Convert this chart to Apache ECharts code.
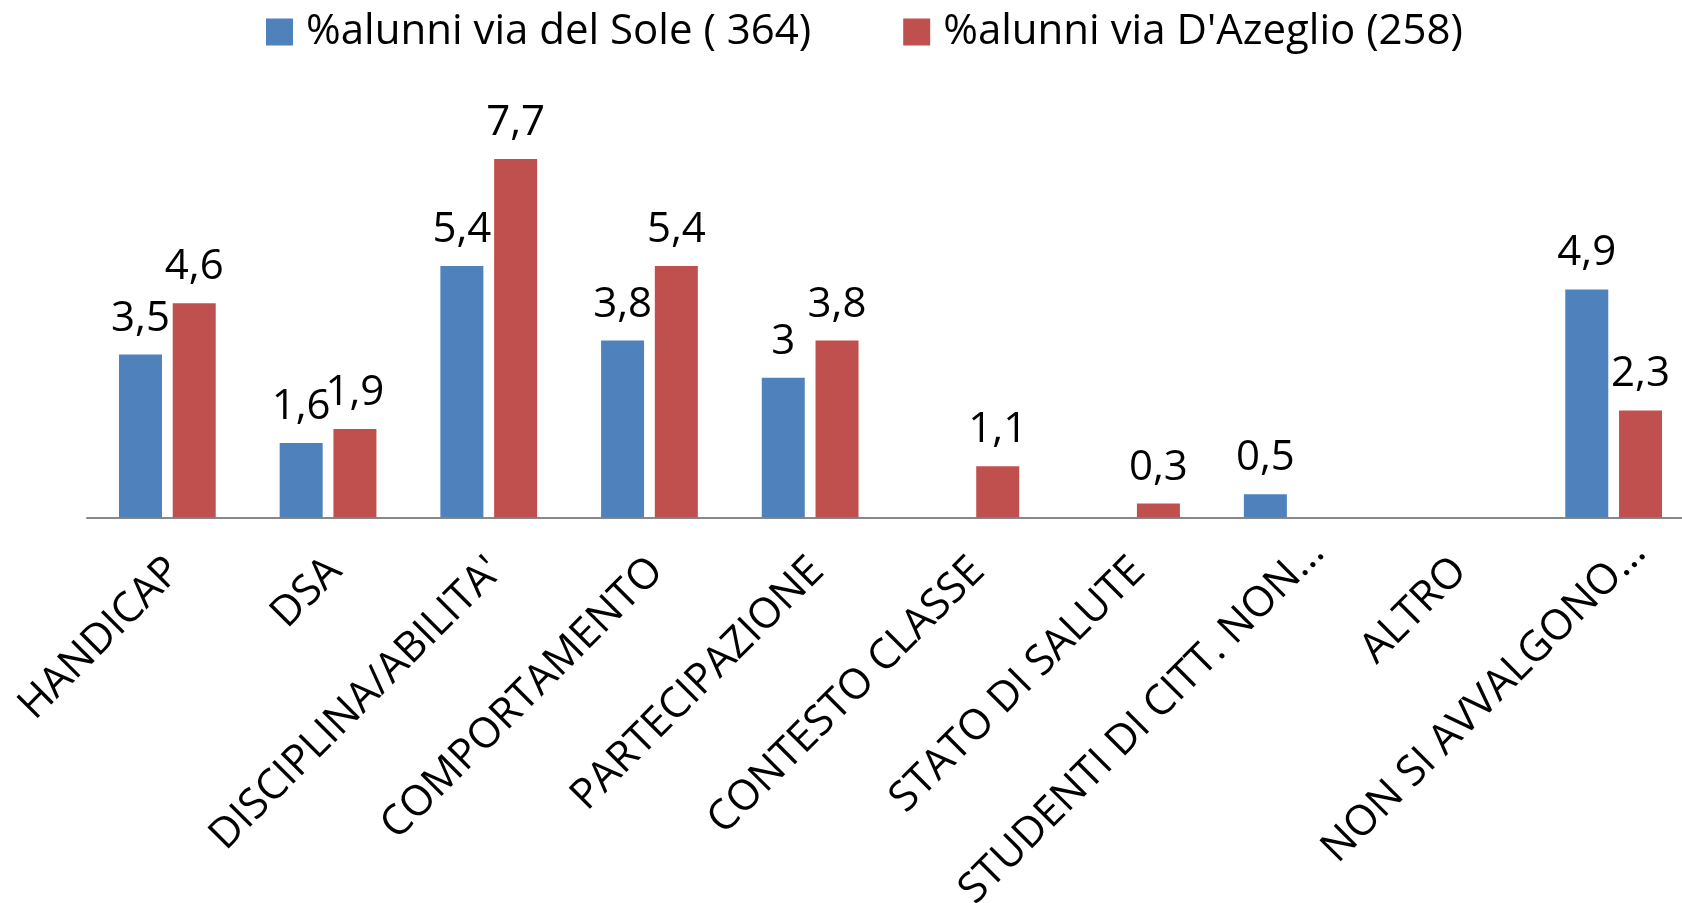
<!DOCTYPE html>
<html>
<head>
<meta charset="utf-8">
<script src="https://cdn.jsdelivr.net/npm/echarts@6/dist/echarts.min.js"></script>
<style>
html,body{margin:0;padding:0;background:#fff;}
#chart{width:1682px;height:903px;}
</style>
</head>
<body>
<div id="chart"></div>
<script>
var categories = ["HANDICAP", "DSA", "DISCIPLINA/ABILITA'", "COMPORTAMENTO", "PARTECIPAZIONE", "CONTESTO CLASSE", "STATO DI SALUTE", "STUDENTI DI CITT. NON...", "ALTRO", "NON SI AVVALGONO..."];
var seriesNames = ["%alunni via del Sole ( 364)", "%alunni via D'Azeglio (258)"];
var solValues = [3.5, 1.6, 5.4, 3.8, 3.0, null, null, 0.5, null, 4.9];
var azeglioValues = [4.6, 1.9, 7.7, 5.4, 3.8, 1.1, 0.3, null, null, 2.3];

var FONT = "'Open Sans', sans-serif";
var chart = echarts.init(document.getElementById('chart'));
function fmt(p){ return String(p.value).replace('.', ','); }
var labelCfg = {show: true, position: 'top', distance: 15, color: '#000', fontFamily: FONT, fontSize: 42, formatter: fmt};
var axisData = categories.map(function(c){
  var shift = /\.\.\.$/.test(c) ? 36 : 10;
  return {value: c, textStyle: {padding: [0, -shift, 0, 0]}};
});
chart.setOption({
  animation: false,
  backgroundColor: '#fff',
  legend: {
    left: 266, top: 11, padding: 0,
    icon: 'rect', itemWidth: 27, itemHeight: 27, itemGap: 92,
    textStyle: {fontFamily: FONT, fontSize: 42, color: '#000', lineHeight: 42, padding: [0,0,0,8]},
    data: seriesNames
  },
  grid: {left: 87, width: 1607, top: 98.5, bottom: 385.5, containLabel: false, outerBoundsMode: 'none'},
  xAxis: {
    type: 'category', data: axisData,
    axisLine: {lineStyle: {color: '#888', width: 2}},
    axisTick: {show: false},
    axisLabel: {rotate: 45, interval: 0, margin: 54, color: '#000', fontFamily: FONT, fontSize: 42}
  },
  yAxis: {type: 'value', min: 0, max: 9, show: false, splitLine: {show: false}},
  series: [
    {name: seriesNames[0], type: 'bar', data: solValues, barWidth: 43, barGap: '25%', itemStyle: {color: '#4F81BD'}, label: labelCfg},
    {name: seriesNames[1], type: 'bar', data: azeglioValues, barWidth: 43, barGap: '25%', itemStyle: {color: '#C0504D'}, label: labelCfg}
  ]
});
</script>
</body>
</html>
